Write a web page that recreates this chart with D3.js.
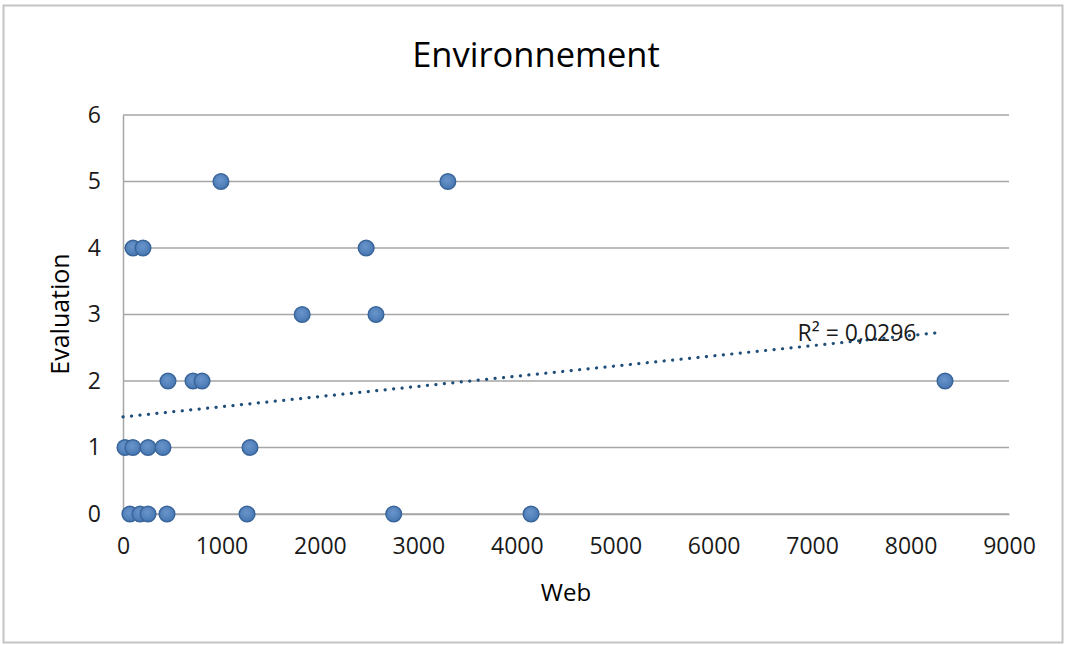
<!DOCTYPE html>
<html><head><meta charset="utf-8">
<script src="https://cdn.jsdelivr.net/npm/d3@7/dist/d3.min.js"></script>
<style>
html,body{margin:0;padding:0;background:#fff;}
svg{display:block;font-family:"Open Sans",sans-serif;}
</style></head>
<body><svg id="chart" width="1067" height="645"></svg>
<script>
// Data
const webValues  = [70, 173, 254, 447, 1260, 2750, 4145,
                    20, 100, 254, 406, 1290,
                    457, 711, 803, 8350,
                    1820, 2570,
                    102, 203, 2470,
                    995, 3300];
const evalValues = [0, 0, 0, 0, 0, 0, 0,
                    1, 1, 1, 1, 1,
                    2, 2, 2, 2,
                    3, 3,
                    4, 4, 4,
                    5, 5];
const xTicks = [0, 1000, 2000, 3000, 4000, 5000, 6000, 7000, 8000, 9000];
const yTicks = [0, 1, 2, 3, 4, 5, 6];
const trendCoef = [1.46, 0.000153]; // intercept, slope
const trendRange = [0, 8300];
const r2Label = "R² = 0,0296";
const chartTitle = "Environnement";
const xTitle = "Web";
const yTitle = "Evaluation";

(function () {
const points = webValues.map((w, i) => ({x: w, y: evalValues[i]}));

const svg = d3.select("#chart");
const pLeft = 123, pRight = 1009, pTop = 115, pBottom = 514;

svg.append("rect").attr("x", 3.5).attr("y", 5.5).attr("width", 1059).attr("height", 637)
  .attr("fill", "#fff").attr("stroke", "#c4c4c4").attr("stroke-width", 2);

const x = d3.scaleLinear().domain([0, 9000]).range([pLeft, pRight]);
const y = d3.scaleLinear().domain([0, 6]).range([pBottom, pTop]);

// gridlines
svg.append("g").selectAll("line").data(yTicks).join("line")
  .attr("x1", pLeft).attr("x2", pRight)
  .attr("y1", d => y(d)).attr("y2", d => y(d))
  .attr("stroke", "#a6a6a6").attr("stroke-width", 1.5);

// y axis
const yAxis = svg.append("g").attr("transform", `translate(${pLeft},0)`)
  .call(d3.axisLeft(y).tickValues(yTicks).tickSize(0).tickPadding(22).tickFormat(d3.format("d")));
yAxis.select(".domain").attr("stroke", "#a6a6a6").attr("stroke-width", 1.5);
yAxis.selectAll("text").attr("font-size", 23).attr("fill", "#1a1a1a").attr("font-family", "Open Sans");

// x axis
const xAxis = svg.append("g").attr("transform", `translate(0,${pBottom})`)
  .call(d3.axisBottom(x).tickValues(xTicks).tickSize(0).tickPadding(24).tickFormat(d3.format("d")));
xAxis.select(".domain").attr("stroke", "#a6a6a6").attr("stroke-width", 1.5);
xAxis.selectAll("text").attr("font-size", 23).attr("fill", "#1a1a1a").attr("font-family", "Open Sans");

// trend line
svg.append("line")
  .attr("x1", x(trendRange[0])).attr("y1", y(trendCoef[0] + trendCoef[1] * trendRange[0]))
  .attr("x2", x(trendRange[1])).attr("y2", y(trendCoef[0] + trendCoef[1] * trendRange[1]))
  .attr("stroke", "#1f4e79").attr("stroke-width", 3.2)
  .attr("stroke-linecap", "round").attr("stroke-dasharray", "0.1 8.4");

// points
const defs = svg.append("defs");
const grad = defs.append("radialGradient").attr("id", "pg").attr("cx", "45%").attr("cy", "40%").attr("r", "60%");
grad.append("stop").attr("offset", "0%").attr("stop-color", "#6a95cb");
grad.append("stop").attr("offset", "100%").attr("stop-color", "#4677b2");

svg.append("g").selectAll("circle").data(points).join("circle")
  .attr("cx", d => x(d.x)).attr("cy", d => y(d.y)).attr("r", 7.8)
  .attr("fill", "url(#pg)").attr("stroke", "#3a659a").attr("stroke-width", 1.5);

// R² label
svg.append("text").attr("x", 857).attr("y", 341).attr("text-anchor", "middle")
  .attr("font-size", 23).attr("fill", "#1a1a1a").text(r2Label);

// titles
svg.append("text").attr("x", 536).attr("y", 67).attr("text-anchor", "middle")
  .attr("font-size", 34.5).attr("fill", "#000").text(chartTitle);
svg.append("text").attr("x", 566).attr("y", 601).attr("text-anchor", "middle")
  .attr("font-size", 24).attr("fill", "#000").text(xTitle);
svg.append("text").attr("transform", "translate(69,314) rotate(-90)").attr("text-anchor", "middle")
  .attr("font-size", 25).attr("fill", "#000").text(yTitle);
})();
</script></body></html>
